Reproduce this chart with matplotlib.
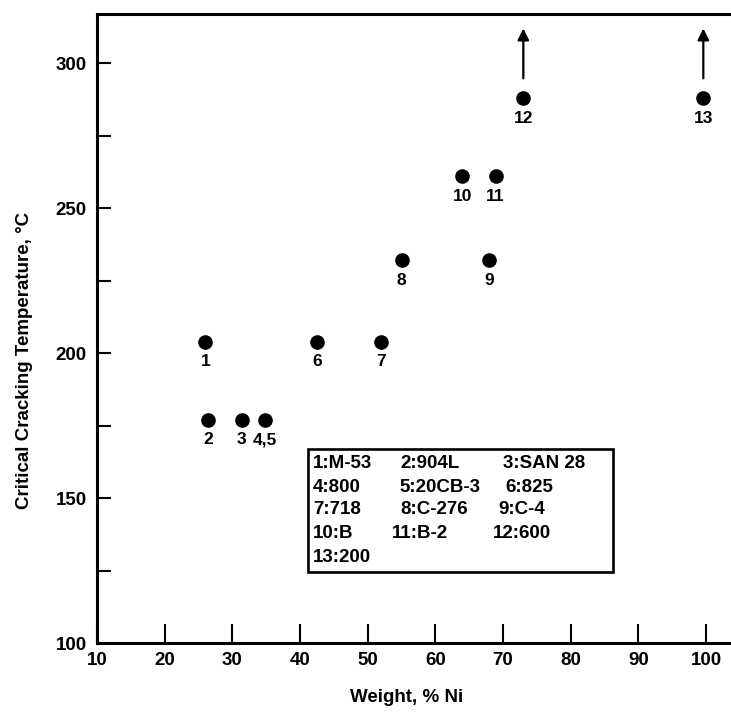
import matplotlib
matplotlib.use("Agg")
import matplotlib.pyplot as plt
from matplotlib.patches import Rectangle
from matplotlib.ticker import MultipleLocator

# Critical cracking temperature vs nickel content
ni_wt = [26.0, 26.4, 31.4, 34.8, 42.5, 52.0, 55.0, 68.0, 64.0, 68.9, 73.0, 99.6]
crack_temp = [204, 177, 177, 177, 204, 204, 232, 232, 261, 261, 288, 288]
point_labels = ['1', '2', '3', '4,5', '6', '7', '8', '9', '10', '11', '12', '13']
no_cracking = [False] * 10 + [True, True]   # did not crack up to the test limit

alloys = ['M-53', '904L', 'SAN 28', '800', '20CB-3', '825',
          '718', 'C-276', 'C-4', 'B', 'B-2', '600', '200']

plt.rcParams['font.family'] = ['Liberation Sans', 'DejaVu Sans']
plt.rcParams['font.weight'] = 'bold'

W, H = 731, 713
fig = plt.figure(figsize=(W / 100, H / 100), dpi=100)


def px(x, y):
    # pixel position (from top-left) -> figure fraction
    return x / W, 1 - y / H


# axes frame; right side runs off the page
ax_l, ax_b = px(97, 643)
_, ax_t = px(0, 14)
ax = fig.add_axes([ax_l, ax_b, 676.7 / W, ax_t - ax_b])
ax.set_xlim(10, 110)
ax.set_ylim(100, 317)

for side in ['left', 'bottom', 'top']:
    ax.spines[side].set_linewidth(2.2)
ax.spines['right'].set_visible(False)

ax.xaxis.set_major_locator(MultipleLocator(10))
ax.yaxis.set_major_locator(MultipleLocator(50))
ax.yaxis.set_minor_locator(MultipleLocator(25))
ax.tick_params(axis='x', which='major', direction='in', length=13.5, width=1.5,
               pad=6.5, labelsize=13.5, top=False)
ax.tick_params(axis='y', which='both', direction='in', length=10, width=1.5,
               pad=7.5, labelsize=13.5, right=False)
ax.tick_params(axis='y', which='minor', labelleft=False)
ax.set_xticks(range(10, 101, 10))

# data points
ax.plot(ni_wt, crack_temp, 'o', color='black', markersize=9.5, clip_on=False)
for x, y, lab, up in zip(ni_wt, crack_temp, point_labels, no_cracking):
    ax.annotate(lab, (x, y), xytext=(0, -14.5), textcoords='offset points',
                ha='center', va='center', fontsize=12.5)
    if up:
        ax.annotate('', xy=(x, y + 24), xytext=(x, y + 6.8),
                    arrowprops=dict(arrowstyle='-|>', color='black', lw=1.6,
                                    mutation_scale=17, shrinkA=0, shrinkB=0))

# axis titles
fig.text(*px(407, 697), 'Weight, % Ni', ha='center', va='center', fontsize=13.5)
fig.text(*px(25, 360), 'Critical Cracking Temperature, \u00b0C', rotation=90,
         ha='center', va='center', fontsize=13.5)

# alloy key
bx0, by0 = px(308, 572)
bx1, by1 = px(613, 449)
fig.patches.append(Rectangle((bx0, by0), bx1 - bx0, by1 - by0, transform=fig.transFigure,
                             fill=False, edgecolor='black', linewidth=1.9))
key_x = [313, 400, 503, 313, 399, 505, 313, 400, 498, 313, 392, 493, 313]
row_y = [463, 487, 510, 533, 557]
for i, name in enumerate(alloys):
    fig.text(*px(key_x[i], row_y[i // 3]), f'{i + 1}:{name}',
             ha='left', va='center', fontsize=13.5)

fig.savefig('out.png', dpi=100)
